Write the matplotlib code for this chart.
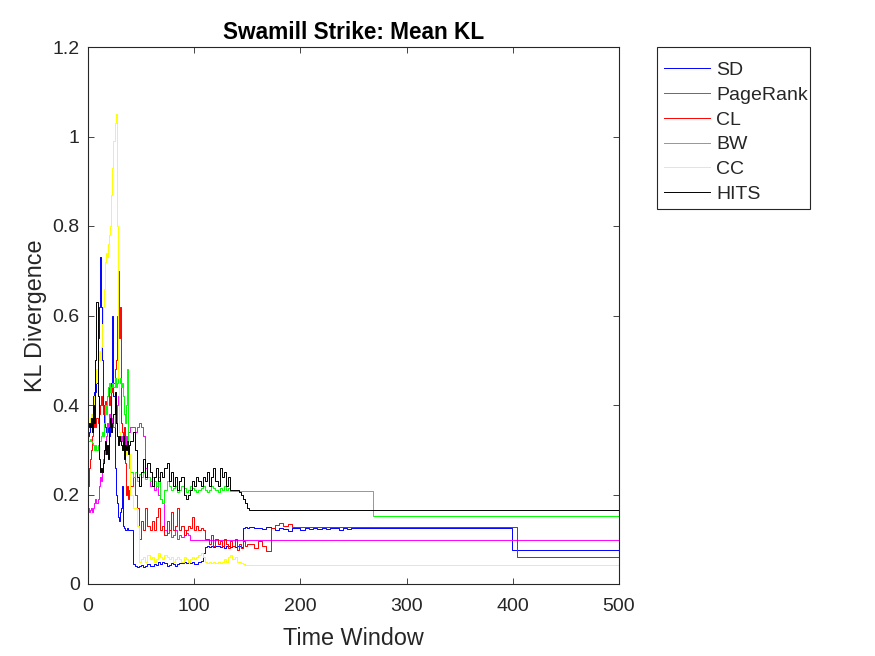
import numpy as np
import matplotlib
matplotlib.use("Agg")
import matplotlib.pyplot as plt
from matplotlib.patches import Rectangle

plt.rcParams['font.family'] = ['Liberation Sans', 'DejaVu Sans']

# time windows: every window for 0-39, every 2nd window for 40-150
t_early = list(range(0, 40))
t_late = list(range(40, 152, 2))
t_mid = list(range(152, 252, 4))

# SD
sd_early = [0.33, 0.34, 0.36, 0.35, 0.38, 0.42, 0.43, 0.43, 0.45, 0.55,
            0.62, 0.73, 0.62, 0.50, 0.40, 0.36, 0.35, 0.34, 0.35, 0.34,
            0.33, 0.36, 0.45, 0.60, 0.42, 0.26, 0.20, 0.18, 0.15, 0.14,
            0.16, 0.17, 0.22, 0.13, 0.125, 0.12, 0.12, 0.125, 0.12, 0.12]
sd_late = [0.12, 0.045, 0.04, 0.038, 0.04, 0.042, 0.038, 0.04, 0.045, 0.04,
           0.04, 0.045, 0.042, 0.05, 0.045, 0.05, 0.048, 0.04, 0.042, 0.046,
           0.044, 0.04, 0.045, 0.048, 0.046, 0.05, 0.048, 0.05, 0.046, 0.05,
           0.045, 0.044, 0.05, 0.052, 0.07, 0.082, 0.085, 0.083, 0.085, 0.082,
           0.086, 0.084, 0.083, 0.085, 0.08, 0.084, 0.085, 0.082, 0.086, 0.083,
           0.084, 0.085, 0.083, 0.125, 0.127, 0.125]
sd_mid = [0.127, 0.125, 0.126, 0.124, 0.127, 0.125, 0.12, 0.126, 0.124, 0.119,
          0.126, 0.125, 0.12, 0.126, 0.124, 0.125, 0.122, 0.126, 0.124, 0.125,
          0.126, 0.12, 0.125, 0.124, 0.125]
sd_tail_t = [252, 399, 500]
sd_tail_v = [0.125, 0.076, 0.076]

# PageRank
pr_early = [0.17, 0.16, 0.165, 0.17, 0.16, 0.17, 0.18, 0.19, 0.18, 0.19,
            0.22, 0.24, 0.23, 0.25, 0.28, 0.30, 0.29, 0.33, 0.36, 0.35,
            0.38, 0.36, 0.34, 0.37, 0.35, 0.38, 0.36, 0.40, 0.42, 0.34,
            0.33, 0.32, 0.33, 0.32, 0.34, 0.33, 0.30, 0.33, 0.34, 0.34]
pr_late = [0.35, 0.35, 0.34, 0.35, 0.36, 0.35, 0.33, 0.26, 0.24, 0.22,
           0.24, 0.21, 0.22, 0.20, 0.19, 0.18, 0.12, 0.115, 0.12, 0.105,
           0.11, 0.12, 0.10, 0.11, 0.105, 0.12, 0.115, 0.11, 0.098, 0.098,
           0.098, 0.098, 0.098, 0.098, 0.098, 0.098, 0.098, 0.098, 0.098, 0.098,
           0.098, 0.098, 0.098, 0.098, 0.098, 0.098, 0.098, 0.098, 0.098, 0.098,
           0.098, 0.098, 0.098, 0.098, 0.098, 0.098]
pr_tail_t = [152, 500]
pr_tail_v = [0.098, 0.098]

# CL
cl_early = [0.22, 0.26, 0.28, 0.30, 0.33, 0.35, 0.36, 0.35, 0.37, 0.36,
            0.38, 0.40, 0.42, 0.40, 0.38, 0.40, 0.41, 0.39, 0.42, 0.44,
            0.40, 0.42, 0.44, 0.43, 0.45, 0.48, 0.50, 0.60, 0.70, 0.55,
            0.62, 0.36, 0.34, 0.33, 0.35, 0.27, 0.20, 0.22, 0.19, 0.21]
cl_late = [0.22, 0.24, 0.20, 0.17, 0.10, 0.14, 0.12, 0.17, 0.13, 0.12,
           0.14, 0.12, 0.15, 0.17, 0.12, 0.13, 0.11, 0.14, 0.12, 0.16,
           0.12, 0.13, 0.17, 0.12, 0.13, 0.11, 0.12, 0.13, 0.125, 0.15,
           0.12, 0.13, 0.12, 0.125, 0.12, 0.10, 0.10, 0.09, 0.11, 0.085,
           0.10, 0.09, 0.095, 0.085, 0.10, 0.09, 0.08, 0.095, 0.085, 0.10,
           0.075, 0.09, 0.08, 0.095, 0.085, 0.09]
cl_mid = [0.09, 0.08, 0.095, 0.085, 0.074, 0.125, 0.132, 0.136, 0.13, 0.133,
          0.128, 0.127, 0.127, 0.127, 0.127, 0.127, 0.127, 0.127, 0.127, 0.127,
          0.127, 0.127, 0.127, 0.127, 0.127]
cl_tail_t = [252, 404, 500]
cl_tail_v = [0.127, 0.06, 0.06]

# BW
bw_early = [0.32, 0.32, 0.325, 0.32, 0.315, 0.31, 0.30, 0.31, 0.30, 0.31,
            0.32, 0.32, 0.33, 0.34, 0.33, 0.36, 0.40, 0.38, 0.42, 0.44,
            0.45, 0.43, 0.44, 0.45, 0.44, 0.46, 0.44, 0.45, 0.46, 0.45,
            0.46, 0.44, 0.45, 0.42, 0.38, 0.36, 0.40, 0.48, 0.30, 0.26]
bw_late = [0.25, 0.24, 0.25, 0.23, 0.245, 0.24, 0.25, 0.235, 0.24, 0.23,
           0.24, 0.23, 0.22, 0.24, 0.19, 0.18, 0.21, 0.23, 0.22, 0.21,
           0.215, 0.22, 0.205, 0.21, 0.22, 0.215, 0.205, 0.21, 0.22, 0.215,
           0.21, 0.205, 0.21, 0.215, 0.22, 0.21, 0.205, 0.21, 0.22, 0.215,
           0.21, 0.205, 0.215, 0.21, 0.22, 0.21, 0.215, 0.207, 0.207, 0.207,
           0.207, 0.207, 0.207, 0.207, 0.207, 0.207]
bw_tail_t = [152, 268, 500]
bw_tail_v = [0.207, 0.151, 0.151]

# CC
cc_early = [0.36, 0.36, 0.37, 0.38, 0.36, 0.40, 0.42, 0.45, 0.48, 0.50,
            0.52, 0.50, 0.53, 0.58, 0.62, 0.66, 0.72, 0.74, 0.73, 0.76,
            0.78, 0.80, 0.87, 0.93, 0.99, 1.03, 1.05, 0.80, 0.46, 0.34,
            0.32, 0.31, 0.30, 0.31, 0.30, 0.29, 0.30, 0.29, 0.30, 0.29]
cc_late = [0.20, 0.17, 0.17, 0.13, 0.05, 0.055, 0.06, 0.05, 0.065, 0.055,
           0.06, 0.05, 0.055, 0.07, 0.06, 0.055, 0.065, 0.06, 0.055, 0.06,
           0.05, 0.055, 0.06, 0.055, 0.05, 0.06, 0.055, 0.05, 0.055, 0.06,
           0.055, 0.06, 0.065, 0.07, 0.06, 0.05, 0.048, 0.05, 0.047, 0.05,
           0.048, 0.05, 0.047, 0.05, 0.055, 0.05, 0.06, 0.065, 0.055, 0.06,
           0.05, 0.05, 0.047, 0.045, 0.043, 0.043]
cc_tail_t = [152, 500]
cc_tail_v = [0.043, 0.043]

# HITS
hits_early = [0.35, 0.36, 0.35, 0.37, 0.34, 0.40, 0.36, 0.50, 0.63, 0.42,
              0.28, 0.25, 0.26, 0.25, 0.27, 0.30, 0.32, 0.29, 0.31, 0.28,
              0.35, 0.37, 0.34, 0.36, 0.38, 0.43, 0.36, 0.33, 0.31, 0.33,
              0.32, 0.31, 0.30, 0.33, 0.28, 0.31, 0.30, 0.32, 0.29, 0.31]
hits_late = [0.32, 0.34, 0.30, 0.24, 0.22, 0.25, 0.28, 0.24, 0.27, 0.25,
             0.22, 0.24, 0.26, 0.23, 0.25, 0.24, 0.26, 0.27, 0.23, 0.25,
             0.22, 0.24, 0.21, 0.23, 0.24, 0.20, 0.19, 0.20, 0.21, 0.23,
             0.22, 0.24, 0.23, 0.22, 0.24, 0.23, 0.25, 0.22, 0.24, 0.26,
             0.23, 0.22, 0.26, 0.24, 0.25, 0.22, 0.24, 0.21, 0.21, 0.21,
             0.21, 0.205, 0.20, 0.19, 0.18, 0.17]
hits_tail_t = [152, 500]
hits_tail_v = [0.165, 0.165]

series = [
    ('SD', sd_early + sd_late + sd_mid + sd_tail_v,
     t_early + t_late + t_mid + sd_tail_t, 'b'),
    ('PageRank', pr_early + pr_late + pr_tail_v,
     t_early + t_late + pr_tail_t, 'm'),
    ('CL', cl_early + cl_late + cl_mid + cl_tail_v,
     t_early + t_late + t_mid + cl_tail_t, 'r'),
    ('BW', bw_early + bw_late + bw_tail_v,
     t_early + t_late + bw_tail_t, 'g'),
    ('CC', cc_early + cc_late + cc_tail_v,
     t_early + t_late + cc_tail_t, 'y'),
    ('HITS', hits_early + hits_late + hits_tail_v,
     t_early + t_late + hits_tail_t, 'k'),
]
colors = {'b': (0, 0, 1), 'm': (1, 0, 1), 'r': (1, 0, 0),
          'g': (0, 1, 0), 'y': (1, 1, 0), 'k': (0, 0, 0)}

W, H = 875, 656
fig = plt.figure(figsize=(W / 100, H / 100), dpi=100)
ax = fig.add_axes([88 / W, 72 / H, 531 / W, 537 / H])

for name, vals, times, c in series:
    ax.plot(times, vals, drawstyle='steps-post', color=colors[c],
            linewidth=0.7, label=name)

dark = '#262626'
ax.set_xlim(0, 500)
ax.set_ylim(0, 1.2)
ax.set_xticks([0, 100, 200, 300, 400, 500])
ax.set_yticks([0, 0.2, 0.4, 0.6, 0.8, 1.0, 1.2])
ax.set_yticklabels(['0', '0.2', '0.4', '0.6', '0.8', '1', '1.2'])
ax.tick_params(direction='in', top=True, right=True, length=4, width=0.6,
               colors=dark, labelsize=14)
ax.tick_params(axis='x', pad=10)
ax.tick_params(axis='y', pad=6)
for sp in ax.spines.values():
    sp.set_color(dark)
    sp.set_linewidth(0.8)

ax.set_title('Swamill Strike: Mean KL', fontsize=16.3, fontweight='bold',
             color='black', pad=5.5)
ax.set_xlabel('Time Window', fontsize=16.8, color=dark, labelpad=9)
ax.set_ylabel('KL Divergence', fontsize=16.8, color=dark, labelpad=4)

# legend: entries placed without frame, box drawn separately
fs = 14
bp = 0.75
leg = ax.legend(loc='upper left',
                bbox_to_anchor=((664 - bp * fs * 100 / 72) / W, 1 - 47 / H),
                bbox_transform=fig.transFigure, borderaxespad=0,
                fontsize=fs, frameon=False,
                handlelength=2.37, handletextpad=0.31, labelspacing=0.365,
                borderpad=bp)
for txt in leg.get_texts():
    txt.set_color(dark)
fig.add_artist(Rectangle((657 / W, 1 - 209 / H), 153 / W, 162 / H,
                         transform=fig.transFigure, fill=False,
                         edgecolor=dark, linewidth=0.8))

fig.savefig('out.png', dpi=100)
